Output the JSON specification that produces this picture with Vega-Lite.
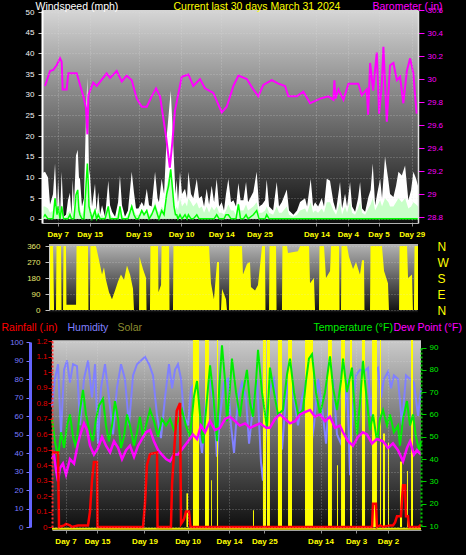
{
  "$schema": "https://vega.github.io/schema/vega-lite/v6.json",
  "width": 466,
  "height": 555,
  "autosize": {"type": "none"},
  "padding": 0,
  "background": "#000000",
  "config": {
    "view": {"stroke": null},
    "font": "Liberation Sans",
    "axis": {"labelFont": "Liberation Sans", "titleFont": "Liberation Sans", "labelFontSize": 8, "titleFontSize": 10.5, "titleFontWeight": "normal", "labelFlush": false, "labelOverlap": false, "gridColor": "#e0e0e0", "gridDash": [1, 2], "gridOpacity": 0.4}
  },
  "datasets": {
    "wind": [
      {"t":0,"g":11,"a":3,"w":0},{"t":0.24,"g":11.4,"a":3,"w":1},{"t":0.48,"g":10,"a":2.5,"w":0},{"t":0.64,"g":3.5,"a":1.5,"w":0},{"t":0.88,"g":6,"a":2,"w":0},{"t":1.04,"g":13.4,"a":3,"w":5},{"t":1.2,"g":2,"a":1,"w":1},{"t":1.28,"g":9.7,"a":4,"w":3},{"t":1.44,"g":1,"a":0.5,"w":0},{"t":1.57,"g":11.4,"a":3.5,"w":3},{"t":1.72,"g":0.5,"a":0.2,"w":0},{"t":1.92,"g":1,"a":0.5,"w":0},{"t":2.07,"g":4.5,"a":1.5,"w":0},{"t":2.23,"g":6.3,"a":2,"w":1},{"t":2.35,"g":1,"a":0.5,"w":0},{"t":2.45,"g":9.5,"a":2.5,"w":0},{"t":2.55,"g":3,"a":1,"w":0},{"t":2.71,"g":15.3,"a":5,"w":5.8},{"t":2.85,"g":16.7,"a":6,"w":7},{"t":2.95,"g":10,"a":3,"w":2},{"t":3.03,"g":9.7,"a":2.5,"w":1},{"t":3.19,"g":3,"a":1,"w":0},{"t":3.35,"g":5,"a":2,"w":0},{"t":3.51,"g":25,"a":8,"w":8},{"t":3.62,"g":34.2,"a":10,"w":13.4},{"t":3.7,"g":20,"a":5,"w":8},{"t":3.75,"g":12,"a":3,"w":3},{"t":3.83,"g":10.5,"a":3,"w":2},{"t":3.99,"g":3,"a":1,"w":0},{"t":4.23,"g":8.5,"a":2.5,"w":2},{"t":4.35,"g":2,"a":1,"w":0},{"t":4.49,"g":6.5,"a":2.5,"w":1},{"t":4.63,"g":1,"a":0.5,"w":0},{"t":4.79,"g":3.3,"a":1,"w":0},{"t":5.03,"g":0.5,"a":0,"w":0},{"t":5.29,"g":9.2,"a":3,"w":3},{"t":5.43,"g":3.3,"a":1,"w":0},{"t":5.59,"g":1.7,"a":0.5,"w":0},{"t":5.83,"g":0.5,"a":0,"w":0},{"t":6.07,"g":4,"a":1.5,"w":0},{"t":6.22,"g":10.5,"a":3,"w":3},{"t":6.38,"g":3.3,"a":1,"w":0},{"t":6.62,"g":0.5,"a":0,"w":0},{"t":6.86,"g":2,"a":1,"w":0},{"t":7.16,"g":11.4,"a":3.5,"w":3},{"t":7.34,"g":6.3,"a":2,"w":1},{"t":7.5,"g":2.5,"a":1,"w":0},{"t":7.69,"g":2.5,"a":1,"w":0},{"t":7.96,"g":4.1,"a":1.5,"w":2},{"t":8.14,"g":3,"a":1,"w":1},{"t":8.36,"g":7.3,"a":2.5,"w":2},{"t":8.54,"g":3.3,"a":1,"w":0},{"t":8.75,"g":3,"a":1.5,"w":1},{"t":9.02,"g":11.4,"a":4,"w":3},{"t":9.22,"g":5,"a":2,"w":1},{"t":9.33,"g":4,"a":1.5,"w":0},{"t":9.55,"g":9.7,"a":3,"w":2},{"t":9.74,"g":6,"a":2,"w":1},{"t":9.95,"g":20,"a":8,"w":6},{"t":10.1,"g":25,"a":10,"w":8},{"t":10.27,"g":31,"a":12,"w":12},{"t":10.42,"g":22,"a":9,"w":7},{"t":10.53,"g":14,"a":5,"w":3},{"t":10.65,"g":6,"a":2,"w":1},{"t":10.75,"g":9.5,"a":3,"w":1},{"t":10.85,"g":4,"a":2,"w":0},{"t":11.01,"g":11.4,"a":5,"w":1},{"t":11.17,"g":6,"a":3,"w":0},{"t":11.41,"g":7.3,"a":4,"w":1},{"t":11.57,"g":5,"a":3,"w":0},{"t":11.68,"g":11.4,"a":5,"w":1},{"t":11.89,"g":6,"a":4,"w":0},{"t":12.07,"g":5,"a":3,"w":0},{"t":12.35,"g":9.7,"a":4,"w":1},{"t":12.53,"g":5,"a":2.5,"w":0},{"t":12.75,"g":5.5,"a":3,"w":0},{"t":12.93,"g":3,"a":1.5,"w":0},{"t":13.14,"g":7.3,"a":3,"w":0},{"t":13.33,"g":3.5,"a":1.5,"w":0},{"t":13.54,"g":8,"a":3,"w":0},{"t":13.73,"g":4,"a":2,"w":0},{"t":13.94,"g":9.7,"a":3,"w":1},{"t":14.13,"g":3,"a":1.5,"w":0},{"t":14.34,"g":4,"a":1.5,"w":0},{"t":14.52,"g":2,"a":1,"w":0},{"t":14.68,"g":6,"a":2,"w":1},{"t":14.87,"g":9.7,"a":3.5,"w":1},{"t":15.08,"g":4,"a":2,"w":0},{"t":15.27,"g":4.5,"a":2,"w":0},{"t":15.48,"g":3,"a":1,"w":0},{"t":15.67,"g":8.7,"a":4,"w":3.5},{"t":15.84,"g":4.5,"a":2,"w":0},{"t":16.07,"g":4.5,"a":2,"w":0},{"t":16.28,"g":8.9,"a":3.5,"w":1},{"t":16.44,"g":4,"a":2,"w":0},{"t":16.86,"g":6.5,"a":3,"w":1},{"t":17.13,"g":11.4,"a":4,"w":2},{"t":17.32,"g":3,"a":1.5,"w":0},{"t":17.56,"g":3.5,"a":1.5,"w":0},{"t":17.8,"g":4.5,"a":2,"w":0},{"t":17.93,"g":9.5,"a":3,"w":1},{"t":18.12,"g":3,"a":1.5,"w":0},{"t":18.44,"g":2,"a":1,"w":0},{"t":18.73,"g":8.9,"a":3,"w":0},{"t":18.91,"g":3,"a":1.5,"w":0},{"t":19.13,"g":4,"a":1.5,"w":0},{"t":19.53,"g":7.1,"a":3,"w":0},{"t":19.71,"g":2,"a":1,"w":0},{"t":20.06,"g":1,"a":0.5,"w":0},{"t":20.35,"g":2,"a":1,"w":0},{"t":20.59,"g":4.1,"a":2,"w":0},{"t":20.99,"g":5,"a":2.5,"w":0},{"t":21.15,"g":3,"a":1.5,"w":0},{"t":21.44,"g":9.7,"a":4,"w":0},{"t":21.63,"g":3,"a":1.5,"w":0},{"t":21.79,"g":4,"a":2,"w":0},{"t":22.03,"g":3,"a":1.5,"w":0},{"t":22.32,"g":5,"a":2.5,"w":0},{"t":22.5,"g":3,"a":1.5,"w":0},{"t":22.72,"g":9.7,"a":4,"w":0},{"t":22.98,"g":9.2,"a":4,"w":0},{"t":23.25,"g":4.1,"a":2,"w":0},{"t":23.46,"g":2,"a":1,"w":0},{"t":23.78,"g":8.9,"a":4,"w":0},{"t":23.94,"g":2.5,"a":1,"w":0},{"t":24.18,"g":6.1,"a":3,"w":0},{"t":24.34,"g":3,"a":1.5,"w":0},{"t":24.58,"g":8.9,"a":4,"w":0},{"t":24.74,"g":3,"a":1.5,"w":0},{"t":24.98,"g":1.7,"a":1,"w":0},{"t":25.22,"g":5,"a":2.5,"w":0},{"t":25.38,"g":8.9,"a":4,"w":0},{"t":25.54,"g":2.5,"a":1.5,"w":0},{"t":25.78,"g":1.7,"a":1,"w":0},{"t":26.04,"g":5.3,"a":2.5,"w":0},{"t":26.22,"g":7,"a":3.5,"w":0},{"t":26.39,"g":13.4,"a":5,"w":0},{"t":26.58,"g":3.3,"a":2,"w":0},{"t":26.74,"g":6,"a":3,"w":0},{"t":26.98,"g":9.7,"a":4.5,"w":0},{"t":27.13,"g":5,"a":3,"w":0},{"t":27.37,"g":15.1,"a":5,"w":0},{"t":27.64,"g":9.2,"a":4,"w":0},{"t":27.77,"g":6,"a":3,"w":0},{"t":28.04,"g":5.3,"a":3,"w":0},{"t":28.25,"g":8,"a":4,"w":0},{"t":28.44,"g":11.4,"a":5,"w":0},{"t":28.71,"g":10.5,"a":4,"w":0},{"t":28.97,"g":12.9,"a":5,"w":0},{"t":29.23,"g":4.5,"a":2.5,"w":0},{"t":29.45,"g":7,"a":3,"w":0},{"t":29.63,"g":11.4,"a":4,"w":0},{"t":29.85,"g":9.7,"a":3.5,"w":0},{"t":30,"g":8,"a":3,"w":0}
    ],
    "baro": [
      {"t":0.24,"b":29.94},{"t":0.64,"b":30.07},{"t":0.9,"b":30.08},{"t":1.17,"b":30.12},{"t":1.44,"b":30.18},{"t":1.57,"b":30.15},{"t":1.65,"b":29.91},{"t":1.97,"b":29.91},{"t":2.1,"b":30.05},{"t":2.77,"b":30.05},{"t":3.03,"b":29.95},{"t":3.3,"b":29.85},{"t":3.51,"b":29.75},{"t":3.62,"b":29.52},{"t":3.7,"b":29.86},{"t":4.09,"b":29.97},{"t":4.37,"b":29.94},{"t":5.16,"b":30.05},{"t":5.43,"b":30.01},{"t":5.96,"b":30.07},{"t":6.36,"b":29.98},{"t":6.76,"b":30.03},{"t":7.16,"b":29.99},{"t":7.56,"b":29.83},{"t":7.96,"b":29.76},{"t":8.36,"b":29.76},{"t":8.75,"b":29.85},{"t":9.1,"b":29.92},{"t":9.42,"b":29.85},{"t":9.9,"b":29.5},{"t":10.2,"b":29.23},{"t":10.4,"b":29.45},{"t":10.6,"b":29.72},{"t":11.15,"b":30.02},{"t":11.68,"b":30.04},{"t":12.07,"b":29.94},{"t":12.61,"b":30.0},{"t":13.0,"b":29.92},{"t":13.67,"b":29.88},{"t":14.34,"b":29.71},{"t":14.74,"b":29.76},{"t":15.27,"b":29.94},{"t":15.67,"b":30.03},{"t":16.34,"b":30.0},{"t":16.86,"b":29.91},{"t":17.26,"b":29.85},{"t":17.66,"b":29.95},{"t":18.33,"b":29.99},{"t":18.86,"b":29.96},{"t":19.39,"b":29.94},{"t":19.66,"b":29.85},{"t":20.33,"b":29.85},{"t":20.85,"b":29.89},{"t":21.39,"b":29.79},{"t":22.19,"b":29.83},{"t":22.85,"b":29.85},{"t":23.25,"b":29.82},{"t":23.33,"b":29.99},{"t":23.42,"b":29.83},{"t":23.65,"b":29.91},{"t":24.05,"b":29.82},{"t":24.45,"b":29.96},{"t":25.24,"b":29.96},{"t":25.51,"b":29.86},{"t":25.91,"b":29.91},{"t":26.02,"b":29.69},{"t":26.18,"b":30.14},{"t":26.42,"b":29.9},{"t":26.71,"b":30.23},{"t":26.9,"b":29.7},{"t":27.11,"b":29.94},{"t":27.24,"b":30.28},{"t":27.51,"b":29.63},{"t":27.77,"b":30.12},{"t":28.04,"b":30.14},{"t":28.31,"b":29.99},{"t":28.57,"b":30.02},{"t":28.83,"b":29.79},{"t":29.11,"b":30.07},{"t":29.37,"b":30.18},{"t":29.63,"b":30.05},{"t":29.77,"b":29.85},{"t":29.9,"b":29.7}
    ],
    "dir": [
      {"t":0,"d":360},{"t":0.33,"d":360},{"t":0.41,"d":0},{"t":0.57,"d":0},{"t":0.61,"d":360},{"t":0.98,"d":360},{"t":1.02,"d":0},{"t":1.14,"d":0},{"t":1.18,"d":360},{"t":1.38,"d":360},{"t":1.42,"d":30},{"t":2.2,"d":30},{"t":2.24,"d":360},{"t":3.17,"d":360},{"t":3.21,"d":0},{"t":3.33,"d":0},{"t":3.37,"d":360},{"t":3.82,"d":360},{"t":4.07,"d":280},{"t":4.31,"d":200},{"t":4.47,"d":240},{"t":4.63,"d":170},{"t":4.88,"d":100},{"t":5.12,"d":60},{"t":5.37,"d":110},{"t":5.61,"d":160},{"t":5.85,"d":200},{"t":6.1,"d":170},{"t":6.34,"d":250},{"t":6.59,"d":200},{"t":6.83,"d":120},{"t":6.91,"d":0},{"t":7.32,"d":0},{"t":7.36,"d":300},{"t":7.64,"d":230},{"t":7.89,"d":180},{"t":7.93,"d":0},{"t":8.21,"d":0},{"t":8.25,"d":360},{"t":8.86,"d":360},{"t":8.9,"d":100},{"t":9.11,"d":140},{"t":9.15,"d":360},{"t":9.76,"d":360},{"t":9.8,"d":0},{"t":10.08,"d":0},{"t":10.12,"d":360},{"t":13.01,"d":360},{"t":13.17,"d":150},{"t":13.41,"d":60},{"t":13.66,"d":270},{"t":13.82,"d":270},{"t":13.86,"d":0},{"t":13.98,"d":0},{"t":14.07,"d":120},{"t":14.39,"d":60},{"t":14.47,"d":0},{"t":14.63,"d":0},{"t":14.67,"d":360},{"t":15.69,"d":360},{"t":15.77,"d":200},{"t":16.1,"d":260},{"t":16.34,"d":270},{"t":16.42,"d":130},{"t":16.75,"d":110},{"t":16.99,"d":140},{"t":17.32,"d":360},{"t":17.56,"d":360},{"t":17.6,"d":0},{"t":17.89,"d":0},{"t":17.93,"d":360},{"t":18.46,"d":360},{"t":18.5,"d":0},{"t":18.94,"d":0},{"t":18.98,"d":360},{"t":19.35,"d":360},{"t":19.43,"d":320},{"t":20.24,"d":330},{"t":20.41,"d":360},{"t":21.14,"d":360},{"t":21.22,"d":150},{"t":21.54,"d":180},{"t":21.63,"d":0},{"t":21.95,"d":0},{"t":21.99,"d":360},{"t":22.36,"d":360},{"t":22.52,"d":180},{"t":22.85,"d":220},{"t":22.93,"d":360},{"t":23.58,"d":360},{"t":23.62,"d":0},{"t":23.74,"d":0},{"t":23.78,"d":360},{"t":24.23,"d":360},{"t":24.39,"d":300},{"t":24.72,"d":230},{"t":24.96,"d":270},{"t":25.28,"d":200},{"t":25.45,"d":280},{"t":25.61,"d":280},{"t":25.65,"d":0},{"t":26.1,"d":0},{"t":26.14,"d":360},{"t":27.07,"d":360},{"t":27.24,"d":220},{"t":27.56,"d":150},{"t":27.64,"d":0},{"t":28.46,"d":0},{"t":28.5,"d":360},{"t":29.11,"d":360},{"t":29.19,"d":180},{"t":29.51,"d":200},{"t":29.59,"d":0},{"t":29.67,"d":0},{"t":29.72,"d":360},{"t":30,"d":360}
    ],
    "hum": [
      {"t":0,"h":65},{"t":0.24,"h":80},{"t":0.49,"h":88},{"t":0.73,"h":50},{"t":0.98,"h":85},{"t":1.22,"h":90},{"t":1.46,"h":78},{"t":1.71,"h":88},{"t":2.03,"h":87},{"t":2.28,"h":55},{"t":2.6,"h":80},{"t":2.93,"h":90},{"t":3.25,"h":70},{"t":3.5,"h":88},{"t":3.74,"h":45},{"t":3.98,"h":75},{"t":4.31,"h":88},{"t":4.63,"h":70},{"t":4.96,"h":50},{"t":5.28,"h":75},{"t":5.61,"h":88},{"t":5.93,"h":80},{"t":6.26,"h":55},{"t":6.59,"h":82},{"t":6.91,"h":88},{"t":7.24,"h":90},{"t":7.56,"h":92},{"t":7.89,"h":88},{"t":8.21,"h":82},{"t":8.54,"h":60},{"t":8.86,"h":48},{"t":9.19,"h":70},{"t":9.51,"h":88},{"t":9.76,"h":75},{"t":10,"h":85},{"t":10.24,"h":88},{"t":10.49,"h":80},{"t":10.73,"h":60},{"t":11.06,"h":55},{"t":11.3,"h":75},{"t":11.63,"h":78},{"t":11.87,"h":55},{"t":12.2,"h":40},{"t":12.52,"h":70},{"t":12.85,"h":80},{"t":13.17,"h":65},{"t":13.41,"h":38},{"t":13.66,"h":60},{"t":13.98,"h":78},{"t":14.31,"h":80},{"t":14.55,"h":55},{"t":14.8,"h":40},{"t":15.12,"h":70},{"t":15.45,"h":78},{"t":15.77,"h":70},{"t":16.02,"h":45},{"t":16.34,"h":65},{"t":16.67,"h":80},{"t":16.99,"h":35},{"t":17.15,"h":25},{"t":17.4,"h":55},{"t":17.72,"h":75},{"t":18.05,"h":80},{"t":18.37,"h":60},{"t":18.7,"h":42},{"t":19.02,"h":70},{"t":19.35,"h":82},{"t":19.67,"h":70},{"t":20,"h":55},{"t":20.33,"h":70},{"t":20.65,"h":78},{"t":20.98,"h":40},{"t":21.3,"h":55},{"t":21.63,"h":80},{"t":21.95,"h":65},{"t":22.28,"h":45},{"t":22.52,"h":70},{"t":22.85,"h":80},{"t":23.17,"h":50},{"t":23.5,"h":45},{"t":23.74,"h":60},{"t":23.98,"h":80},{"t":24.23,"h":28},{"t":24.47,"h":65},{"t":24.72,"h":82},{"t":25.04,"h":85},{"t":25.37,"h":84},{"t":25.69,"h":86},{"t":25.93,"h":60},{"t":26.18,"h":84},{"t":26.5,"h":86},{"t":26.75,"h":70},{"t":26.99,"h":80},{"t":27.32,"h":84},{"t":27.56,"h":75},{"t":27.8,"h":82},{"t":28.13,"h":80},{"t":28.46,"h":55},{"t":28.78,"h":82},{"t":29.11,"h":80},{"t":29.43,"h":78},{"t":29.76,"h":60},{"t":30,"h":75}
    ],
    "temp": [
      {"t":0,"v":58},{"t":0.24,"v":48},{"t":0.49,"v":41},{"t":0.73,"v":52},{"t":0.98,"v":45},{"t":1.22,"v":55},{"t":1.46,"v":60},{"t":1.71,"v":50},{"t":1.95,"v":45},{"t":2.28,"v":62},{"t":2.52,"v":71},{"t":2.76,"v":60},{"t":3.09,"v":52},{"t":3.33,"v":48},{"t":3.58,"v":58},{"t":3.82,"v":64},{"t":4.15,"v":67},{"t":4.39,"v":55},{"t":4.63,"v":48},{"t":4.88,"v":55},{"t":5.12,"v":66},{"t":5.37,"v":58},{"t":5.61,"v":45},{"t":5.85,"v":50},{"t":6.1,"v":60},{"t":6.34,"v":55},{"t":6.67,"v":46},{"t":6.91,"v":52},{"t":7.15,"v":59},{"t":7.4,"v":50},{"t":7.64,"v":55},{"t":7.97,"v":62},{"t":8.29,"v":57},{"t":8.62,"v":50},{"t":8.94,"v":58},{"t":9.27,"v":55},{"t":9.59,"v":58},{"t":9.92,"v":53},{"t":10.24,"v":57},{"t":10.57,"v":62},{"t":10.89,"v":55},{"t":11.22,"v":50},{"t":11.54,"v":68},{"t":11.79,"v":75},{"t":12.03,"v":60},{"t":12.28,"v":47},{"t":12.52,"v":62},{"t":12.85,"v":82},{"t":13.09,"v":70},{"t":13.41,"v":48},{"t":13.58,"v":70},{"t":13.82,"v":91},{"t":14.07,"v":75},{"t":14.23,"v":57},{"t":14.47,"v":72},{"t":14.63,"v":85},{"t":14.96,"v":70},{"t":15.28,"v":59},{"t":15.53,"v":70},{"t":15.85,"v":80},{"t":16.1,"v":65},{"t":16.34,"v":59},{"t":16.59,"v":75},{"t":16.75,"v":89},{"t":17.07,"v":70},{"t":17.48,"v":54},{"t":17.72,"v":81},{"t":18.05,"v":70},{"t":18.37,"v":60},{"t":18.78,"v":62},{"t":19.11,"v":78},{"t":19.35,"v":85},{"t":19.67,"v":70},{"t":20,"v":60},{"t":20.41,"v":62},{"t":20.65,"v":75},{"t":20.89,"v":85},{"t":21.14,"v":87},{"t":21.46,"v":70},{"t":21.79,"v":60},{"t":22.2,"v":70},{"t":22.6,"v":86},{"t":22.85,"v":72},{"t":23.17,"v":62},{"t":23.5,"v":75},{"t":23.66,"v":85},{"t":23.98,"v":70},{"t":24.39,"v":81},{"t":24.63,"v":60},{"t":24.8,"v":51},{"t":25.04,"v":65},{"t":25.28,"v":84},{"t":25.53,"v":70},{"t":25.85,"v":53},{"t":26.1,"v":60},{"t":26.42,"v":48},{"t":26.67,"v":58},{"t":26.91,"v":62},{"t":27.24,"v":55},{"t":27.48,"v":60},{"t":27.8,"v":52},{"t":28.13,"v":55},{"t":28.29,"v":46},{"t":28.54,"v":58},{"t":28.86,"v":66},{"t":29.11,"v":55},{"t":29.35,"v":60},{"t":29.59,"v":50},{"t":29.84,"v":44},{"t":30,"v":48}
    ],
    "dew": [
      {"t":0,"v":40},{"t":0.16,"v":42},{"t":0.33,"v":35},{"t":0.49,"v":30},{"t":0.65,"v":36},{"t":0.89,"v":38},{"t":1.14,"v":33},{"t":1.46,"v":40},{"t":1.79,"v":38},{"t":2.11,"v":47},{"t":2.36,"v":52},{"t":2.6,"v":56},{"t":2.85,"v":53},{"t":3.09,"v":46},{"t":3.41,"v":42},{"t":3.74,"v":45},{"t":4.07,"v":50},{"t":4.39,"v":46},{"t":4.72,"v":43},{"t":5.04,"v":48},{"t":5.37,"v":45},{"t":5.69,"v":40},{"t":6.02,"v":44},{"t":6.34,"v":46},{"t":6.67,"v":41},{"t":7.0,"v":46},{"t":7.32,"v":49},{"t":7.64,"v":52},{"t":7.97,"v":53},{"t":8.29,"v":48},{"t":8.62,"v":44},{"t":8.94,"v":42},{"t":9.27,"v":40},{"t":9.59,"v":39},{"t":9.92,"v":42},{"t":10.24,"v":42},{"t":10.65,"v":45},{"t":11.06,"v":48},{"t":11.46,"v":51},{"t":11.79,"v":49},{"t":12.11,"v":55},{"t":12.44,"v":52},{"t":12.85,"v":57},{"t":13.25,"v":53},{"t":13.66,"v":54},{"t":14.07,"v":58},{"t":14.47,"v":59},{"t":14.88,"v":57},{"t":15.28,"v":55},{"t":15.69,"v":56},{"t":16.1,"v":54},{"t":16.5,"v":55},{"t":16.91,"v":56},{"t":17.4,"v":54},{"t":17.72,"v":54},{"t":18.13,"v":58},{"t":18.54,"v":60},{"t":18.94,"v":58},{"t":19.35,"v":56},{"t":19.76,"v":57},{"t":20.16,"v":60},{"t":20.57,"v":61},{"t":20.98,"v":62},{"t":21.38,"v":59},{"t":21.79,"v":60},{"t":22.2,"v":57},{"t":22.6,"v":59},{"t":23.01,"v":54},{"t":23.41,"v":55},{"t":23.66,"v":52},{"t":24.07,"v":48},{"t":24.47,"v":46},{"t":24.88,"v":50},{"t":25.28,"v":52},{"t":25.61,"v":51},{"t":26.02,"v":47},{"t":26.42,"v":49},{"t":26.91,"v":48},{"t":27.32,"v":45},{"t":27.72,"v":47},{"t":28.13,"v":44},{"t":28.54,"v":39},{"t":28.86,"v":45},{"t":29.11,"v":48},{"t":29.43,"v":42},{"t":29.67,"v":44},{"t":30,"v":42}
    ],
    "rain": [
      {"t":0,"r":0.48},{"t":0.49,"r":0.48},{"t":0.57,"r":0},{"t":0.98,"r":0.01},{"t":1.14,"r":0.02},{"t":1.46,"r":0.01},{"t":1.63,"r":0},{"t":2.11,"r":0.01},{"t":2.93,"r":0.01},{"t":3.09,"r":0.1},{"t":3.25,"r":0.3},{"t":3.41,"r":0.42},{"t":3.66,"r":0.42},{"t":3.7,"r":0},{"t":7.4,"r":0},{"t":7.56,"r":0.15},{"t":7.72,"r":0.4},{"t":7.97,"r":0.47},{"t":8.54,"r":0.48},{"t":8.58,"r":0},{"t":9.67,"r":0},{"t":9.76,"r":0.28},{"t":9.86,"r":0.4},{"t":10.14,"r":0.75},{"t":10.41,"r":0.8},{"t":10.49,"r":0.02},{"t":10.73,"r":0.05},{"t":10.89,"r":0.1},{"t":11.14,"r":0.1},{"t":11.26,"r":0},{"t":26.02,"r":0},{"t":26.1,"r":0.15},{"t":26.34,"r":0.15},{"t":26.42,"r":0},{"t":26.67,"r":0.01},{"t":26.91,"r":0},{"t":27.48,"r":0.01},{"t":27.72,"r":0.01},{"t":27.89,"r":0.03},{"t":28.05,"r":0.07},{"t":28.37,"r":0.07},{"t":28.46,"r":0.18},{"t":28.54,"r":0.27},{"t":28.7,"r":0.27},{"t":28.78,"r":0.07},{"t":28.94,"r":0.07},{"t":29.02,"r":0},{"t":29.84,"r":0},{"t":29.92,"r":0.01},{"t":30,"r":0.01}
    ],
    "solar": [
      {"t0":10.93,"t1":11.06,"s":18},{"t0":11.46,"t1":11.95,"s":100},{"t0":12.44,"t1":12.76,"s":100},{"t0":12.93,"t1":13.0,"s":25},{"t0":13.41,"t1":13.5,"s":100},{"t0":16.34,"t1":16.42,"s":9},{"t0":17.15,"t1":17.4,"s":100},{"t0":17.48,"t1":17.72,"s":100},{"t0":18.37,"t1":18.7,"s":100},{"t0":19.19,"t1":19.51,"s":100},{"t0":20.57,"t1":21.22,"s":100},{"t0":22.44,"t1":22.76,"s":100},{"t0":23.17,"t1":23.25,"s":33},{"t0":23.5,"t1":23.82,"s":100},{"t0":24.23,"t1":24.39,"s":100},{"t0":25.2,"t1":25.45,"s":100},{"t0":26.02,"t1":26.42,"s":100},{"t0":26.67,"t1":26.75,"s":100},{"t0":26.91,"t1":27.07,"s":50},{"t0":27.32,"t1":27.4,"s":45},{"t0":28.29,"t1":28.46,"s":35},{"t0":28.86,"t1":28.94,"s":30},{"t0":29.19,"t1":29.35,"s":100}
    ]
  },
  "layer": [
    {
      "data": {"values": [{}]},
      "mark": {"type": "rect", "fill": {"gradient": "linear", "x1": 0, "y1": 0, "x2": 0, "y2": 1, "stops": [{"offset": 0, "color": "#d6d6d6"}, {"offset": 1, "color": "#0e0e0e"}]}},
      "encoding": {
        "x": {"datum": 0, "type": "quantitative", "scale": {"domain": [0, 30], "range": [42, 418], "nice": false, "zero": false},
          "axis": {"orient": "top", "offset": 0, "values": [1.25, 3.8, 7.7, 11.1, 14.3, 17.35, 21.9, 24.4, 26.85, 29.5], "labels": false, "ticks": false, "domain": false, "grid": true, "title": null, "zindex": 1}},
        "x2": {"datum": 30},
        "y": {"datum": -1, "type": "quantitative", "scale": {"domain": [-1, 50.5], "range": [223, 10], "nice": false, "zero": false}, "axis": null},
        "y2": {"datum": 50.5}
      }
    },
    {
      "data": {"name": "wind"},
      "mark": {"type": "area", "color": "#ffffff"},
      "encoding": {
        "x": {"field": "t", "type": "quantitative", "scale": {"domain": [0, 30], "range": [42, 418], "nice": false, "zero": false},
          "axis": {"orient": "bottom", "offset": -332, "values": [1.25, 3.8, 7.7, 11.1, 14.3, 17.35, 21.9, 24.4, 26.85, 29.5],
            "labelExpr": "datum.value < 2 ? 'Day 7' : datum.value < 5 ? 'Day 15' : datum.value < 9 ? 'Day 19' : datum.value < 12 ? 'Day 10' : datum.value < 16 ? 'Day 14' : datum.value < 19 ? 'Day 25' : datum.value < 23 ? 'Day 14' : datum.value < 25.5 ? 'Day 4' : datum.value < 28 ? 'Day 5' : 'Day 29'",
            "labelColor": "#ffff00", "labelFontWeight": "bold", "labelPadding": 4, "tickColor": "#909090", "tickSize": 3, "domainColor": "#b0b0b0", "grid": false,
            "title": "Current last 30 days March 31 2024", "titleColor": "#ffff00", "titleX": 256.5, "titleY": -214, "titleAlign": "center", "titleBaseline": "alphabetic", "zindex": 1}},
        "y": {"field": "g", "type": "quantitative", "scale": {"domain": [-1, 50.5], "range": [223, 10], "nice": false, "zero": false},
          "axis": {"orient": "left", "offset": -42, "values": [0, 5, 10, 15, 20, 25, 30, 35, 40, 45, 50], "labelColor": "#f4f4f4", "tickColor": "#c8c8c8", "tickSize": 4, "labelPadding": 4, "domainColor": "#ffffff", "domainWidth": 2, "grid": true,
            "title": "Windspeed (mph)", "titleColor": "#ffffff", "titleAngle": 0, "titleAlign": "left", "titleBaseline": "alphabetic", "titleX": -7, "titleY": 9, "zindex": 1}}
      }
    },
    {
      "data": {"name": "wind"},
      "mark": {"type": "area", "color": "#c8ffc8"},
      "encoding": {
        "x": {"field": "t", "type": "quantitative", "scale": {"domain": [0, 30], "range": [42, 418], "nice": false, "zero": false}, "axis": null},
        "y": {"field": "a", "type": "quantitative", "scale": {"domain": [-1, 50.5], "range": [223, 10], "nice": false, "zero": false}, "axis": null}
      }
    },
    {
      "data": {"name": "wind"},
      "mark": {"type": "line", "color": "#00ff00", "strokeWidth": 1.5},
      "encoding": {
        "x": {"field": "t", "type": "quantitative", "scale": {"domain": [0, 30], "range": [42, 418], "nice": false, "zero": false}, "axis": null},
        "y": {"field": "w", "type": "quantitative", "scale": {"domain": [-1, 50.5], "range": [223, 10], "nice": false, "zero": false}, "axis": null}
      }
    },
    {
      "data": {"name": "baro"},
      "mark": {"type": "line", "color": "#ff00ff", "strokeWidth": 2},
      "encoding": {
        "x": {"field": "t", "type": "quantitative", "scale": {"domain": [0, 30], "range": [42, 418], "nice": false, "zero": false}, "axis": null},
        "y": {"field": "b", "type": "quantitative", "scale": {"domain": [28.75, 30.6], "range": [223, 10], "nice": false, "zero": false},
          "axis": {"orient": "right", "offset": -48, "values": [28.8, 29, 29.2, 29.4, 29.6, 29.8, 30, 30.2, 30.4, 30.6], "format": ".1~f", "labelColor": "#ff00ff", "tickColor": "#ff00ff", "tickSize": 6, "labelPadding": 3, "domainColor": "#e0e0e0", "domainWidth": 1.5, "grid": false,
            "title": "Barometer (.in)", "titleColor": "#ff00ff", "titleAngle": 0, "titleAlign": "left", "titleBaseline": "alphabetic", "titleX": -46, "titleY": 9, "zindex": 1}}
      }
    },
    {
      "data": {"values": [{}]},
      "mark": {"type": "rect", "fill": {"gradient": "linear", "x1": 0, "y1": 0, "x2": 0, "y2": 1, "stops": [{"offset": 0, "color": "#b4b4b4"}, {"offset": 1, "color": "#101010"}]}},
      "encoding": {
        "x": {"datum": 0, "type": "quantitative", "scale": {"domain": [0, 30], "range": [49, 418], "nice": false, "zero": false}, "axis": null},
        "x2": {"datum": 30},
        "y": {"datum": -12, "type": "quantitative", "scale": {"domain": [0, 360], "range": [310, 246], "nice": false, "zero": false},
          "axis": {"orient": "left", "offset": -49, "values": [0, 90, 180, 270, 360], "labelColor": "#e6e66e", "tickColor": "#c0c0c0", "tickSize": 4, "labelPadding": 5, "domainColor": "#c8c8c8", "grid": true, "title": null, "zindex": 1}},
        "y2": {"datum": 371}
      }
    },
    {
      "data": {"name": "dir"},
      "mark": {"type": "area", "color": "#ffff00"},
      "encoding": {
        "x": {"field": "t", "type": "quantitative", "scale": {"domain": [0, 30], "range": [49, 418], "nice": false, "zero": false}, "axis": null},
        "y": {"field": "d", "type": "quantitative", "scale": {"domain": [0, 360], "range": [310, 246], "nice": false, "zero": false},
          "axis": {"orient": "right", "offset": -48, "values": [0, 90, 180, 270, 360], "labelExpr": "datum.value == 90 ? 'E' : datum.value == 180 ? 'S' : datum.value == 270 ? 'W' : 'N'", "labelColor": "#ffff00", "labelFontSize": 12, "labelPadding": 19, "ticks": false, "domain": false, "grid": false, "title": null}}
      }
    },
    {
      "data": {"values": [{}]},
      "mark": {"type": "rect", "fill": {"gradient": "linear", "x1": 0, "y1": 0, "x2": 0, "y2": 1, "stops": [{"offset": 0, "color": "#cacaca"}, {"offset": 1, "color": "#0c0c0c"}]}},
      "encoding": {
        "x": {"datum": 0, "type": "quantitative", "scale": {"domain": [0, 30], "range": [52, 421], "nice": false, "zero": false},
          "axis": {"orient": "top", "offset": 0, "values": [1.1, 3.66, 7.52, 11.02, 14.39, 17.26, 21.83, 24.72, 27.32], "labels": false, "ticks": false, "domain": false, "grid": true, "title": null, "zindex": 1}},
        "x2": {"datum": 30},
        "y": {"datum": -1.8, "type": "quantitative", "scale": {"domain": [0, 100], "range": [527, 342], "nice": false, "zero": false}, "axis": null},
        "y2": {"datum": 100.9}
      }
    },
    {
      "data": {"name": "hum"},
      "mark": {"type": "line", "color": "#8080ff", "strokeWidth": 2},
      "encoding": {
        "x": {"field": "t", "type": "quantitative", "scale": {"domain": [0, 30], "range": [52, 421], "nice": false, "zero": false}, "axis": null},
        "y": {"field": "h", "type": "quantitative", "scale": {"domain": [0, 100], "range": [527, 342], "nice": false, "zero": false},
          "axis": {"orient": "left", "offset": -30, "values": [0, 10, 20, 30, 40, 50, 60, 70, 80, 90, 100], "labelColor": "#7a7aff", "tickColor": "#7a7aff", "tickSize": 4, "labelPadding": 3, "domainColor": "#6464ff", "domainWidth": 3, "grid": true,
            "title": "Humidity", "titleColor": "#8080ff", "titleAngle": 0, "titleAlign": "left", "titleBaseline": "alphabetic", "titleX": 37, "titleY": 330, "zindex": 1}}
      }
    },
    {
      "data": {"name": "solar"},
      "mark": {"type": "rect", "color": "#ffff00"},
      "encoding": {
        "x": {"field": "t0", "type": "quantitative", "scale": {"domain": [0, 30], "range": [52, 421], "nice": false, "zero": false},
          "axis": {"orient": "bottom", "offset": -25, "values": [1.1, 3.66, 7.52, 11.02, 14.39, 17.26, 21.83, 24.72, 27.32],
            "labelExpr": "datum.value < 2 ? 'Day 7' : datum.value < 5 ? 'Day 15' : datum.value < 9 ? 'Day 19' : datum.value < 12.5 ? 'Day 10' : datum.value < 16 ? 'Day 14' : datum.value < 19 ? 'Day 25' : datum.value < 23 ? 'Day 14' : datum.value < 26 ? 'Day 3' : 'Day 2'",
            "labelColor": "#ffff00", "labelFontWeight": "bold", "labelPadding": 4, "tickColor": "#909090", "tickSize": 3, "domainColor": "#a0a0a0", "grid": false, "title": null, "zindex": 1}},
        "x2": {"field": "t1"},
        "y": {"field": "s", "type": "quantitative", "scale": {"domain": [0, 100], "range": [527, 340], "nice": false, "zero": false},
          "axis": {"orient": "left", "offset": -117, "labels": false, "ticks": false, "domain": false, "grid": false,
            "title": "Solar", "titleColor": "#8c8c30", "titleAngle": 0, "titleAlign": "left", "titleBaseline": "alphabetic", "titleX": 0, "titleY": 330}},
        "y2": {"datum": 0}
      }
    },
    {
      "data": {"values": [{}]},
      "mark": {"type": "rule", "color": "#e8e800", "strokeWidth": 2},
      "encoding": {
        "x": {"datum": 0, "type": "quantitative", "scale": {"domain": [0, 30], "range": [52, 421], "nice": false, "zero": false}, "axis": null},
        "x2": {"datum": 30},
        "y": {"datum": -1, "type": "quantitative", "scale": {"domain": [0, 100], "range": [527, 340], "nice": false, "zero": false}, "axis": null}
      }
    },
    {
      "data": {"name": "temp"},
      "mark": {"type": "line", "color": "#00ee00", "strokeWidth": 2},
      "encoding": {
        "x": {"field": "t", "type": "quantitative", "scale": {"domain": [0, 30], "range": [52, 421], "nice": false, "zero": false}, "axis": null},
        "y": {"field": "v", "type": "quantitative", "scale": {"domain": [10, 90], "range": [526, 347.5], "nice": false, "zero": false},
          "axis": {"orient": "right", "offset": -45, "values": [10, 20, 30, 40, 50, 60, 70, 80, 90], "labelColor": "#00ee00", "tickColor": "#00cc00", "tickSize": 5, "labelPadding": 3, "domainColor": "#00cc00", "domainDash": [2, 2], "domainWidth": 2, "grid": false,
            "title": "Temperature (°F)", "titleColor": "#00ee00", "titleAngle": 0, "titleAlign": "left", "titleBaseline": "alphabetic", "titleX": -108, "titleY": 330, "zindex": 1}}
      }
    },
    {
      "data": {"name": "dew"},
      "mark": {"type": "line", "color": "#ff00ff", "strokeWidth": 2.5},
      "encoding": {
        "x": {"field": "t", "type": "quantitative", "scale": {"domain": [0, 30], "range": [52, 421], "nice": false, "zero": false}, "axis": null},
        "y": {"field": "v", "type": "quantitative", "scale": {"domain": [10, 90], "range": [526, 347.5], "nice": false, "zero": false},
          "axis": {"orient": "right", "offset": -45, "labels": false, "ticks": false, "domain": false, "grid": false,
            "title": "Dew Point (°F)", "titleColor": "#ff00ff", "titleAngle": 0, "titleAlign": "left", "titleBaseline": "alphabetic", "titleX": -28, "titleY": 330}}
      }
    },
    {
      "data": {"name": "rain"},
      "mark": {"type": "line", "color": "#ff0000", "strokeWidth": 2.5},
      "encoding": {
        "x": {"field": "t", "type": "quantitative", "scale": {"domain": [0, 30], "range": [52, 421], "nice": false, "zero": false}, "axis": null},
        "y": {"field": "r", "type": "quantitative", "scale": {"domain": [0, 1.2], "range": [527, 341], "nice": false, "zero": false},
          "axis": {"orient": "left", "offset": -52, "values": [0, 0.1, 0.2, 0.3, 0.4, 0.5, 0.6, 0.7, 0.8, 0.9, 1, 1.1, 1.2], "format": ".1~f", "labelColor": "#e00000", "tickColor": "#e00000", "tickSize": 4, "labelPadding": 1, "domainColor": "#ff3030", "domainDash": [2, 2], "domainWidth": 2, "grid": false,
            "title": "Rainfall (.in)", "titleColor": "#ff0000", "titleAngle": 0, "titleAlign": "left", "titleBaseline": "alphabetic", "titleX": -51, "titleY": 330, "zindex": 1}}
      }
    }
  ],
  "resolve": {"scale": {"x": "independent", "y": "independent"}, "axis": {"x": "independent", "y": "independent"}}
}
